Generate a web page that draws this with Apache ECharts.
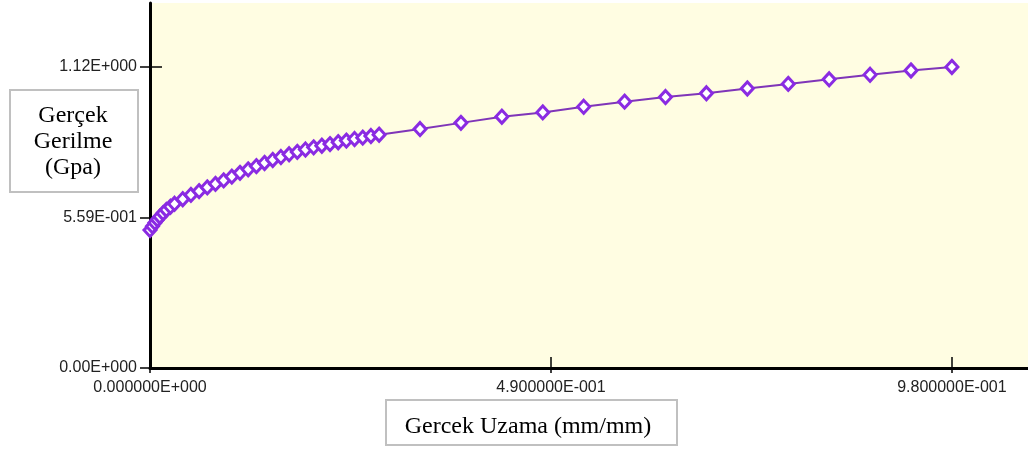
<!DOCTYPE html>
<html>
<head>
<meta charset="utf-8">
<script src="https://cdn.jsdelivr.net/npm/echarts@6/dist/echarts.min.js"></script>
<style>
html,body{margin:0;padding:0;background:#ffffff;}
#chart{width:1028px;height:450px;}
</style>
</head>
<body>
<div id="chart"></div>
<script>
// True strain (mm/mm)
var strain = [0, 0.003, 0.006, 0.009, 0.012, 0.016, 0.02, 0.025,
  0.03, 0.04, 0.05, 0.06, 0.07, 0.08, 0.09, 0.10, 0.11, 0.12, 0.13, 0.14,
  0.15, 0.16, 0.17, 0.18, 0.19, 0.20, 0.21, 0.22, 0.23, 0.24, 0.25, 0.26,
  0.27, 0.28, 0.33, 0.38, 0.43, 0.48, 0.53, 0.58, 0.63, 0.68, 0.73, 0.78,
  0.83, 0.88, 0.93, 0.98];
// True stress (GPa)
var stress = [0.513, 0.527, 0.540, 0.552, 0.563, 0.576, 0.588, 0.600,
  0.611, 0.628, 0.644, 0.658, 0.672, 0.685, 0.698, 0.712, 0.726, 0.739, 0.751, 0.763,
  0.774, 0.785, 0.795, 0.804, 0.813, 0.821, 0.827, 0.833, 0.840, 0.846, 0.852, 0.857,
  0.863, 0.868, 0.889, 0.912, 0.935, 0.951, 0.972, 0.991, 1.008, 1.022, 1.040, 1.057,
  1.074, 1.091, 1.107, 1.120];

var xTickValues = [0, 0.49, 0.98];
var xTickLabels = ['0.000000E+000', '4.900000E-001', '9.800000E-001'];
var yTickValues = [0, 0.559, 1.12];
var yTickLabels = ['0.00E+000', '5.59E-001', '1.12E+000'];

var yTitleLines = ['Gerçek', 'Gerilme', '(Gpa)'];
var xTitle = 'Gercek Uzama (mm/mm)';

function labelFor(values, labels) {
  return function (v) {
    for (var i = 0; i < values.length; i++) {
      if (Math.abs(values[i] - v) < 1e-6) return labels[i];
    }
    return '';
  };
}

var points = strain.map(function (x, i) { return [x, stress[i]]; });

var chart = echarts.init(document.getElementById('chart'), null, {renderer: 'canvas'});
var tickFont = {fontFamily: 'Liberation Sans', fontSize: 16, color: '#222222'};

chart.setOption({
  animation: false,
  backgroundColor: '#ffffff',
  grid: {
    left: 150, right: 0, top: 3, bottom: 82,
    show: true, backgroundColor: '#fffde2', borderWidth: 0
  },
  xAxis: [{
    type: 'value', min: 0, max: 1.073, position: 'bottom',
    axisLine: {show: true, lineStyle: {color: '#000', width: 3}},
    axisTick: {show: true, inside: false, length: 5, customValues: xTickValues,
      lineStyle: {color: '#000', width: 1.5}},
    axisLabel: Object.assign({show: true, margin: 12, customValues: xTickValues,
      formatter: labelFor(xTickValues, xTickLabels)}, tickFont),
    splitLine: {show: false}
  }, {
    type: 'value', min: 0, max: 1.073, position: 'bottom', offset: 0,
    axisLine: {show: false},
    axisTick: {show: true, inside: true, length: 11, customValues: xTickValues,
      lineStyle: {color: '#000', width: 1.5}},
    axisLabel: {show: false},
    splitLine: {show: false}
  }],
  yAxis: [{
    type: 'value', min: 0, max: 1.358, position: 'left',
    axisLine: {show: true, lineStyle: {color: '#000', width: 3}},
    axisTick: {show: true, inside: false, length: 10, customValues: yTickValues,
      lineStyle: {color: '#000', width: 1.5}},
    axisLabel: Object.assign({show: true, margin: 13, customValues: yTickValues,
      formatter: labelFor(yTickValues, yTickLabels)}, tickFont),
    splitLine: {show: false}
  }, {
    type: 'value', min: 0, max: 1.358, position: 'left', offset: 0,
    axisLine: {show: false},
    axisTick: {show: true, inside: true, length: 12, customValues: yTickValues,
      lineStyle: {color: '#000', width: 1.5}},
    axisLabel: {show: false},
    splitLine: {show: false}
  }],
  series: [{
    type: 'line',
    xAxisIndex: 0, yAxisIndex: 0,
    data: points,
    showAllSymbol: true,
    symbol: 'diamond',
    symbolSize: [12, 13],
    lineStyle: {color: '#7f35b8', width: 2},
    itemStyle: {color: '#ffffff', borderColor: '#8a2be2', borderWidth: 3},
    emphasis: {disabled: true}
  }],
  graphic: [{
    type: 'rect', left: 9, top: 89,
    shape: {width: 128, height: 102},
    style: {fill: '#ffffff', stroke: '#c0c0c0', lineWidth: 2}
  }, {
    type: 'text', x: 73, y: 142,
    style: {
      text: yTitleLines.join('\n'),
      fontFamily: 'Liberation Serif', fontSize: 24, lineHeight: 26,
      fill: '#000000', align: 'center', verticalAlign: 'middle'
    }
  }, {
    type: 'rect', left: 385, top: 399,
    shape: {width: 291, height: 45},
    style: {fill: '#ffffff', stroke: '#c0c0c0', lineWidth: 2}
  }, {
    type: 'text', x: 528, y: 427,
    style: {
      text: xTitle,
      fontFamily: 'Liberation Serif', fontSize: 24,
      fill: '#000000', align: 'center', verticalAlign: 'middle'
    }
  }]
});
</script>
</body>
</html>
